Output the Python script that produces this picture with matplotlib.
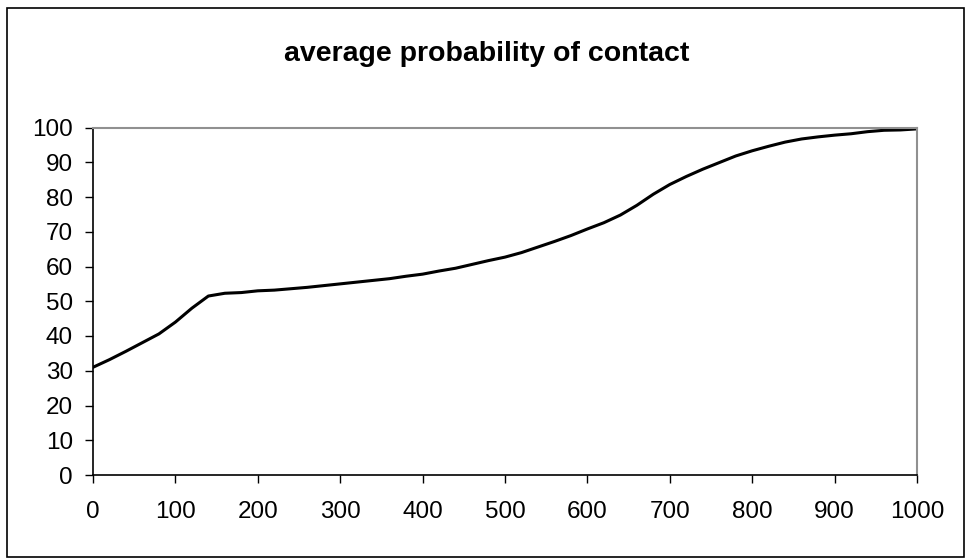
import matplotlib
matplotlib.use("Agg")
import matplotlib.pyplot as plt
from matplotlib.patches import Rectangle

plt.rcParams['font.family'] = ['Liberation Sans', 'DejaVu Sans']

title = "average probability of contact"
x_vals = [0, 20, 40, 60, 80, 100, 120, 140, 160, 180,
          200, 220, 240, 260, 280, 300, 320, 340, 360, 380,
          400, 420, 440, 460, 480, 500, 520, 540, 560, 580,
          600, 620, 640, 660, 680, 700, 720, 740, 760, 780,
          800, 820, 840, 860, 880, 900, 920, 940, 960, 980, 1000]
y_vals = [31.0, 33.2, 35.6, 38.1, 40.6, 44.0, 48.0, 51.5, 52.3, 52.5,
          53.0, 53.2, 53.6, 54.0, 54.5, 55.0, 55.5, 56.0, 56.5, 57.2,
          57.8, 58.7, 59.5, 60.6, 61.7, 62.7, 64.0, 65.6, 67.2, 68.9,
          70.8, 72.6, 74.8, 77.6, 80.8, 83.6, 85.9, 88.0, 89.9, 91.8,
          93.3, 94.6, 95.8, 96.7, 97.3, 97.8, 98.2, 98.8, 99.2, 99.3, 99.6]
x_ticks = list(range(0, 1001, 100))
y_ticks = list(range(0, 101, 10))

fig = plt.figure(figsize=(9.7, 5.59), dpi=100)
ax = fig.add_axes([93/970, 1-475/559, (917-93)/970, (475-127.5)/559])

ax.plot(x_vals, y_vals, color='black', lw=2.2, solid_joinstyle='round')

ax.set_xlim(0, 1000)
ax.set_ylim(0, 100)
ax.set_xticks(x_ticks)
ax.set_yticks(y_ticks)
ax.tick_params(axis='both', direction='out', length=5.5, width=1, labelsize=17.5, colors='black')
ax.tick_params(axis='y', pad=9)
ax.tick_params(axis='x', pad=13)
for s in ['left', 'bottom']:
    ax.spines[s].set_color('black')
    ax.spines[s].set_linewidth(1.2)
for s in ['top', 'right']:
    ax.spines[s].set_color('#909090')
    ax.spines[s].set_linewidth(1.5)

fig.text(487/970, 1-54/559, title, ha='center', va='center', fontsize=20.5, fontweight='bold')

fig.patches.append(Rectangle((7/970, 1-557/559), (964-7)/970, (557-8)/559,
                             transform=fig.transFigure, fill=False, edgecolor='black', lw=1.2))

fig.savefig("out.png", dpi=100)
